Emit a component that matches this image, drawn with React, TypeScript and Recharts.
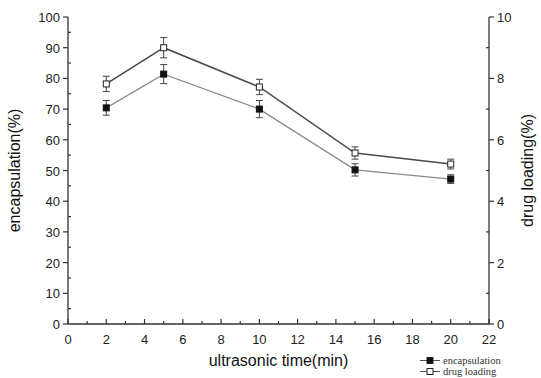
import { ComposedChart, Line, XAxis, YAxis, ErrorBar } from 'recharts';

// ultrasonic time (min)
const times = [2, 5, 10, 15, 20];
// encapsulation (%) — left axis
const encapsulation = [70.4, 81.4, 70.0, 50.2, 47.2];
const encapsulationErr = [2.4, 3.1, 2.8, 2.0, 1.4];
// drug loading (%) — right axis
const drugLoading = [7.82, 9.0, 7.72, 5.57, 5.21];
const drugLoadingErr = [0.25, 0.33, 0.25, 0.2, 0.16];

const xTicks = [0, 1, 2, 3, 4, 5, 6, 7, 8, 9, 10, 11, 12, 13, 14, 15, 16, 17, 18, 19, 20, 21, 22];
const leftTicks = [0, 5, 10, 15, 20, 25, 30, 35, 40, 45, 50, 55, 60, 65, 70, 75, 80, 85, 90, 95, 100];
const rightTicks = [0, 1, 2, 3, 4, 5, 6, 7, 8, 9, 10];

const data = times.map((t, i) => ({
  time: t,
  enc: encapsulation[i],
  encErr: encapsulationErr[i],
  drug: drugLoading[i],
  drugErr: drugLoadingErr[i],
}));

const AXIS = '#333';
const FONT = '"Liberation Sans", Arial, sans-serif';

const BottomTick = (props: any) => {
  const { x, y, payload } = props;
  const major = payload.value % 2 === 0;
  return (
    <g>
      <line x1={x} x2={x} y1={y} y2={y - (major ? 5 : 3)} stroke={AXIS} strokeWidth={1.2} />
      {major && (
        <text x={x} y={y + 20} textAnchor="middle" fontSize={13} fontFamily={FONT} fill="#222">
          {payload.value}
        </text>
      )}
    </g>
  );
};

const TopTick = (props: any) => {
  const { x, y, payload } = props;
  const major = payload.value % 2 === 0;
  return <line x1={x} x2={x} y1={y} y2={y + (major ? 5 : 3)} stroke={AXIS} strokeWidth={1.2} />;
};

const LeftTick = (props: any) => {
  const { x, y, payload } = props;
  const major = payload.value % 10 === 0;
  return (
    <g>
      {major ? (
        <line x1={x} x2={x - 5} y1={y} y2={y} stroke={AXIS} strokeWidth={1.2} />
      ) : (
        <line x1={x} x2={x + 3} y1={y} y2={y} stroke={AXIS} strokeWidth={1.2} />
      )}
      {major && (
        <text x={x - 8} y={y + 5} textAnchor="end" fontSize={13} fontFamily={FONT} fill="#222">
          {payload.value}
        </text>
      )}
    </g>
  );
};

const RightTick = (props: any) => {
  const { x, y, payload } = props;
  const major = payload.value % 2 === 0;
  return (
    <g>
      {major ? (
        <line x1={x} x2={x + 5} y1={y} y2={y} stroke={AXIS} strokeWidth={1.2} />
      ) : (
        <line x1={x} x2={x - 3} y1={y} y2={y} stroke={AXIS} strokeWidth={1.2} />
      )}
      {major && (
        <text x={x + 8} y={y + 5} textAnchor="start" fontSize={13} fontFamily={FONT} fill="#222">
          {payload.value}
        </text>
      )}
    </g>
  );
};

const FilledSquare = (props: any) => {
  const { cx, cy, index } = props;
  return <rect key={`f${index}`} x={cx - 3} y={cy - 3} width={6} height={6} fill="#111" stroke="#111" />;
};

const OpenSquare = (props: any) => {
  const { cx, cy, index } = props;
  return <rect key={`o${index}`} x={cx - 3} y={cy - 3} width={6} height={6} fill="#fff" stroke="#222" strokeWidth={1} />;
};

const LegendRow = ({ filled, label }: { filled: boolean; label: string }) => (
  <div style={{ display: 'flex', alignItems: 'center', height: 11 }}>
    <svg width={20} height={9}>
      <line x1={0} x2={20} y1={4.5} y2={4.5} stroke="#555" strokeWidth={1} />
      <rect x={7} y={1.5} width={6} height={6} fill={filled ? '#111' : '#fff'} stroke="#222" />
    </svg>
    <span style={{ marginLeft: 3, fontFamily: '"Liberation Serif", "Times New Roman", serif', fontSize: 10.5, lineHeight: '11px', color: '#333' }}>
      {label}
    </span>
  </div>
);

export default function App() {
  return (
    <div style={{ position: 'absolute', left: 0, top: 0, width: 541, height: 378, background: '#fff', overflow: 'hidden' }}>
      <ComposedChart width={541} height={378} data={data} margin={{ top: 17, right: 0, bottom: 0, left: 0 }}>
        <XAxis
          dataKey="time"
          type="number"
          domain={[0, 22]}
          ticks={xTicks}
          interval={0}
          height={54}
          tickSize={0}
          tickMargin={0}
          tickLine={false}
          tick={<BottomTick />}
          axisLine={{ stroke: AXIS, strokeWidth: 1.3 }}
          label={{ value: 'ultrasonic time(min)', position: 'insideBottom', offset: 12, style: { fontFamily: FONT, fontSize: 16, fill: '#111' } }}
        />
        <XAxis
          xAxisId="top"
          orientation="top"
          type="number"
          domain={[0, 22]}
          ticks={xTicks}
          interval={0}
          height={0}
          tickSize={0}
          tickMargin={0}
          tickLine={false}
          tick={<TopTick />}
          axisLine={{ stroke: AXIS, strokeWidth: 1.3 }}
        />
        <YAxis
          yAxisId="left"
          type="number"
          domain={[0, 100]}
          ticks={leftTicks}
          interval={0}
          width={68}
          tickSize={0}
          tickMargin={0}
          tickLine={false}
          tick={<LeftTick />}
          axisLine={{ stroke: AXIS, strokeWidth: 1.3 }}
          label={{ value: 'encapsulation(%)', angle: -90, position: 'insideLeft', offset: 14, style: { textAnchor: 'middle', fontFamily: FONT, fontSize: 16, fill: '#111' } }}
        />
        <YAxis
          yAxisId="right"
          orientation="right"
          type="number"
          domain={[0, 10]}
          ticks={rightTicks}
          interval={0}
          width={52}
          tickSize={0}
          tickMargin={0}
          tickLine={false}
          tick={<RightTick />}
          axisLine={{ stroke: AXIS, strokeWidth: 1.3 }}
          label={{ value: 'drug loading(%)', angle: -90, position: 'insideRight', offset: 14, style: { textAnchor: 'middle', fontFamily: FONT, fontSize: 16, fill: '#111' } }}
        />
        <Line
          yAxisId="left"
          dataKey="enc"
          type="linear"
          stroke="#8a8a8a"
          strokeWidth={1.3}
          dot={<FilledSquare />}
          activeDot={false}
          isAnimationActive={false}
        >
          <ErrorBar dataKey="encErr" direction="y" width={3.5} stroke="#444" strokeWidth={1} />
        </Line>
        <Line
          yAxisId="right"
          dataKey="drug"
          type="linear"
          stroke="#4a4a4a"
          strokeWidth={1.5}
          dot={<OpenSquare />}
          activeDot={false}
          isAnimationActive={false}
        >
          <ErrorBar dataKey="drugErr" direction="y" width={3.5} stroke="#444" strokeWidth={1} />
        </Line>
      </ComposedChart>
      <div style={{ position: 'absolute', left: 420, top: 355 }}>
        <LegendRow filled label="encapsulation" />
        <LegendRow filled={false} label="drug loading" />
      </div>
    </div>
  );
}
